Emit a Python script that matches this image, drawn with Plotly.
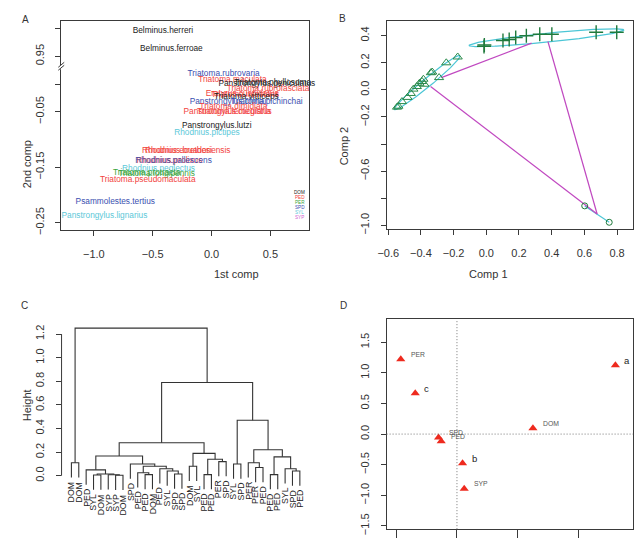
import numpy as np
import plotly.graph_objects as go

W, H = 639, 552

# ---------------- Panel A data ----------------
group_names = ["DOM", "PED", "PER", "SPD", "SYL", "SYP"]
group_colors = ["#222222", "#f2433d", "#3aa540", "#3a4fb0", "#5cc8d8", "#d060d0"]

a_labels = ["Belminus.herreri", "Belminus.ferroae", "Triatoma.rubrovaria", "Triatoma.maculata",
            "Panstrongylus.geniculatus", "Triatoma.phyllosoma", "Triatoma.rubrofasciata",
            "Eratyrus.cuspidatus", "Triatoma.infestans", "Triatoma.vitticeps",
            "Panstrongylus.chinai", "Triatoma.pichinchai", "Triatoma.dimidiata",
            "Panstrongylus.megistus", "Triatoma.lecticularia", "Panstrongylus.lutzi",
            "Rhodnius.pictipes", "Rhodnius.ecuadoriensis", "Rhodnius.brethesi",
            "Rhodnius.prolixus", "Rhodnius.pallescens", "Rhodnius.neglectus",
            "Triatoma.protracta", "Triatoma.longipennis", "Triatoma.pseudomaculata",
            "Psammolestes.tertius", "Panstrongylus.lignarius"]
a_x = [-0.413, -0.341, 0.103, 0.178, 0.47, 0.52, 0.48, 0.26, 0.287, 0.296,
       0.14, 0.47, 0.187, 0.137, 0.19, 0.044, -0.039, -0.215, -0.28,
       -0.358, -0.323, -0.45, -0.55, -0.467, -0.542, -0.818, -0.91]
a_y = [0.995, 0.9625, 0.018, 0.0077, 0.0, 0.0018, -0.009, -0.018, -0.0196, -0.023,
       -0.032, -0.032, -0.041, -0.05, -0.05, -0.075, -0.089, -0.121, -0.121,
       -0.139, -0.139, -0.153, -0.161, -0.162, -0.173, -0.2125, -0.237]
a_group = ["DOM", "DOM", "SPD", "PED", "DOM", "DOM", "PED", "PED", "PED", "DOM",
           "SPD", "SPD", "PED", "PED", "PED", "DOM", "SYL", "PED", "PED",
           "PED", "SPD", "SYL", "PER", "PER", "PED", "SPD", "SYL"]
a_break_gap = 0.9
a_xticks = [-1.0, -0.5, 0.0, 0.5]
a_yticks_real = [1.00, 0.95, 0.0, -0.05, -0.15, -0.25]
a_yticks_text = ["", "0.95", "", "\u22120.05", "\u22120.15", "\u22120.25"]

# ---------------- Panel B data ----------------
cross_x = [-0.014, -0.012, 0.102, 0.140, 0.180, 0.245, 0.327, 0.401, 0.672, 0.798]
cross_y = [0.320, 0.330, 0.364, 0.371, 0.385, 0.398, 0.410, 0.410, 0.424, 0.424]
tri_x = [-0.546, -0.538, -0.516, -0.482, -0.462, -0.446, -0.425, -0.409, -0.393,
         -0.385, -0.379, -0.339, -0.331, -0.289, -0.245, -0.175]
tri_y = [-0.128, -0.121, -0.087, -0.056, -0.027, 0.005, 0.024, 0.048, 0.061,
         0.078, 0.041, 0.126, 0.131, 0.090, 0.199, 0.242]
circ_x = [0.602, 0.752]
circ_y = [-0.856, -0.977]
ell_center = [(0.3685, 0.384), (-0.3615, 0.0535)]
ell_major = [(0.4735, 0.057), (0.2005, 0.1985)]
ell_minor = [(0.0, 0.033), (-0.016, 0.025)]
link_x0 = [-0.275, -0.341, 0.377]
link_y0 = [0.090, 0.024, 0.356]
link_x1 = [0.277, 0.678, 0.678]
link_y1 = [0.344, -0.916, -0.916]
b_xticks = [-0.6, -0.4, -0.2, 0.0, 0.2, 0.4, 0.6, 0.8]
b_yticks = [0.4, 0.2, 0.0, -0.2, -0.4, -0.6, -0.8, -1.0]
b_ytext = ["0.4", "0.2", "0.0", "\u22120.2", "", "\u22120.6", "", "\u22121.0"]

# ---------------- Panel C data (dendrogram) ----------------
tree = (1.25,
        (0.11, "DOM", "DOM"),
        (0.79,
         (0.28,
          (0.167,
           (0.05, "PED", (0.015, (0.006, "SYL", "DOM"), (0.008, "SYP", (0.004, "SYP", "DOM")))),
           (0.10, "SPD", (0.08, (0.025, "PED", (0.01, "PED", "DOM")),
                          (0.06, "PED", (0.04, "SYL", (0.015, "SPD", "SPD")))))),
          (0.19, (0.08, "DOM", "SYL"),
           (0.14, (0.01, "PED", "PED"), (0.12, "PER", "SPD")))),
         (0.47,
          (0.10, "SYL", "SPD"),
          (0.22,
           (0.11, "PER", (0.07, "PER", "PED")),
           (0.16, (0.01, "PED", "PED"), (0.06, "SYL", (0.04, "SPD", "PED")))))))
hang = 0.125
c_yticks = [0.0, 0.2, 0.4, 0.6, 0.8, 1.0, 1.2]

# ---------------- Panel D data ----------------
d_labels = ["PER", "c", "SPD", "PED", "b", "SYP", "DOM", "a"]
d_x = [-0.924, -0.686, -0.303, -0.259, 0.092, 0.119, 1.249, 2.605]
d_y = [1.22, 0.667, -0.054, -0.118, -0.478, -0.892, 0.097, 1.124]
d_xticks = [-1, 0, 1, 2]
d_yticks = [-1.5, -1.0, -0.5, 0.0, 0.5, 1.0, 1.5]

# ---------------- helpers ----------------
def fx(p):
    return p / W

def fy(p):
    return 1 - p / H

AX = "#3a3a3a"
FONT = "Liberation Sans"
common = dict(showgrid=False, zeroline=False, showline=True, mirror=True, linecolor=AX,
              linewidth=1, ticks="outside", ticklen=5, tickcolor=AX, tickwidth=1,
              tickfont=dict(size=11, color="#333", family=FONT))

fig = go.Figure()

# ----- Panel A -----
col_map = dict(zip(group_names, group_colors))
a_yplot = [y - a_break_gap if y > 0.5 else y for y in a_y]
fig.add_trace(go.Scatter(x=a_x, y=a_yplot, mode="text", text=a_labels,
                         textfont=dict(size=8.3, family=FONT, color=[col_map[g] for g in a_group]),
                         cliponaxis=False, xaxis="x", yaxis="y", hoverinfo="skip"))
a_ytick_plot = [y - a_break_gap if y > 0.5 else y for y in a_yticks_real]

# ----- Panel B -----
t = np.linspace(0, 2 * np.pi, 200)
for c, ma, mi in zip(ell_center, ell_major, ell_minor):
    ex = c[0] + np.cos(t) * ma[0] + np.sin(t) * mi[0]
    ey = c[1] + np.cos(t) * ma[1] + np.sin(t) * mi[1]
    fig.add_trace(go.Scatter(x=ex, y=ey, mode="lines", line=dict(color="#4cc6d6", width=1.2),
                             xaxis="x2", yaxis="y2", hoverinfo="skip"))
fig.add_trace(go.Scatter(x=circ_x, y=circ_y, mode="lines", line=dict(color="#4cc6d6", width=1.2),
                         xaxis="x2", yaxis="y2", hoverinfo="skip"))
lx, ly = [], []
for a0, b0, a1, b1 in zip(link_x0, link_y0, link_x1, link_y1):
    lx += [a0, a1, None]
    ly += [b0, b1, None]
fig.add_trace(go.Scatter(x=lx, y=ly, mode="lines", line=dict(color="#c048c0", width=1.2),
                         xaxis="x2", yaxis="y2", hoverinfo="skip"))
GREEN = "#1f7a3c"
fig.add_trace(go.Scatter(x=tri_x, y=tri_y, mode="markers",
                         marker=dict(symbol="triangle-up-open", size=8, color="#2a8a4a", line=dict(width=1)),
                         xaxis="x2", yaxis="y2", hoverinfo="skip"))
fig.add_trace(go.Scatter(x=cross_x, y=cross_y, mode="markers",
                         marker=dict(symbol="cross-thin-open", size=10, color=GREEN, line=dict(width=1.4, color=GREEN)),
                         xaxis="x2", yaxis="y2", hoverinfo="skip"))
fig.add_trace(go.Scatter(x=circ_x, y=circ_y, mode="markers",
                         marker=dict(symbol="circle-open", size=6, color=GREEN, line=dict(width=1)),
                         xaxis="x2", yaxis="y2", hoverinfo="skip"))

# ----- Panel C -----
seg_x, seg_y = [], []
leaves = []
counter = [0]

def walk(node, parent_h):
    if isinstance(node, str):
        counter[0] += 1
        xi = counter[0]
        bottom = parent_h - hang
        leaves.append((xi, bottom, node))
        return xi, bottom
    h, l, r = node
    xl, hl = walk(l, h)
    xr, hr = walk(r, h)
    seg_x.extend([xl, xl, xr, xr, None])
    seg_y.extend([hl, h, h, hr, None])
    return (xl + xr) / 2, h

walk(tree, tree[0])
n_leaves = len(leaves)
fig.add_trace(go.Scatter(x=seg_x, y=seg_y, mode="lines", line=dict(color="#333", width=1.1),
                         xaxis="x3", yaxis="y3", hoverinfo="skip"))
sp = (295 - 63.3) / (n_leaves - 1)
c_xrange = [1 - (63.3 - 53.3) / sp, n_leaves + 15 / sp]

# ----- Panel D -----
fig.add_trace(go.Scatter(x=d_x, y=d_y, mode="markers",
                         marker=dict(symbol="triangle-up", size=8, color="#ee2a1e"),
                         xaxis="x4", yaxis="y4", hoverinfo="skip"))

annotations = []
shapes = []

for txt, x, y in [("A", 11, 12), ("B", 338, 11), ("C", 10, 309), ("D", 339, 309)]:
    annotations.append(dict(text=txt, x=fx(x), y=fy(y), xref="paper", yref="paper", showarrow=False,
                            font=dict(size=10, color="#333", family=FONT)))
for txt, x, y, ang in [("1st comp", 206, 277, 0), ("2nd comp", 11, 140, -90),
                       ("Comp 1", 508, 277, 0), ("Comp 2", 340, 126, -90),
                       ("Height", 11, 428, -90)]:
    annotations.append(dict(text=txt, x=fx(x), y=fy(y), xref="paper", yref="paper", showarrow=False,
                            textangle=ang, font=dict(size=11, color="#333", family=FONT)))
for i, (g, c) in enumerate(zip(group_names, group_colors)):
    annotations.append(dict(text=g, x=fx(295), y=fy(195 + i * 4.9), xref="paper", yref="paper",
                            showarrow=False, font=dict(size=4.6, color=c, family=FONT)))
shapes.append(dict(type="rect", xref="paper", yref="paper", x0=fx(50), x1=fx(57), y0=fy(70), y1=fy(66),
                   fillcolor="white", line=dict(width=0)))
for dy in (0, 3):
    shapes.append(dict(type="line", xref="paper", yref="paper", x0=fx(50), x1=fx(56),
                       y0=fy(71 - dy), y1=fy(66 - dy), line=dict(color=AX, width=1)))

for xi, bottom, lab in leaves:
    annotations.append(dict(text=lab, x=xi, y=bottom, xref="x3", yref="y3", showarrow=False,
                            textangle=-90, xanchor="center", yanchor="top", yshift=-2,
                            font=dict(size=8.8, color="#222", family=FONT)))
shapes.append(dict(type="line", xref="x3 domain", yref="y3", x0=0, x1=0, y0=0, y1=1.2,
                   line=dict(color=AX, width=1)))

for lab, x, y in zip(d_labels, d_x, d_y):
    big = len(lab) == 1
    annotations.append(dict(text=lab, x=x, y=y, xref="x4", yref="y4", showarrow=False,
                            xanchor="left", xshift=8 if not big else 7, yshift=5,
                            font=dict(size=9.5 if big else 6.8, color="#222" if big else "#555", family=FONT)))
shapes.append(dict(type="line", xref="x4", yref="y4 domain", x0=0, x1=0, y0=0, y1=1,
                   line=dict(color="#777", width=1, dash="1px,2px")))
shapes.append(dict(type="line", xref="x4 domain", yref="y4", x0=0, x1=1, y0=0, y1=0,
                   line=dict(color="#777", width=1, dash="1px,2px")))

fig.update_layout(
    width=W, height=H, margin=dict(l=0, r=0, t=0, b=0),
    paper_bgcolor="white", plot_bgcolor="white", showlegend=False,
    annotations=annotations, shapes=shapes,
    xaxis=dict(common, domain=[fx(53), fx(304)], range=[-1.277, 0.826], tickvals=a_xticks,
               ticktext=["\u22121.0", "\u22120.5", "0.0", "0.5"], ticklabelstandoff=8, anchor="y"),
    yaxis=dict(common, domain=[fy(233), fy(21)], range=[-0.264, 0.114], tickvals=a_ytick_plot,
               ticktext=a_yticks_text, tickangle=-90, ticklabelstandoff=7, anchor="x"),
    xaxis2=dict(common, domain=[fx(383), fx(633)], range=[-0.61, 0.898], tickvals=b_xticks,
                ticktext=["\u22120.6", "\u22120.4", "\u22120.2", "0.0", "0.2", "0.4", "0.6", "0.8"],
                ticklabelstandoff=8, anchor="y2"),
    yaxis2=dict(common, domain=[fy(232), fy(21)], range=[-1.03, 0.509], tickvals=b_yticks,
                ticktext=b_ytext, tickangle=-90, ticklabelstandoff=7, anchor="x2"),
    xaxis3=dict(domain=[fx(53.3), fx(310)], range=c_xrange, visible=False, anchor="y3"),
    yaxis3=dict(common, showline=False, mirror=False, domain=[fy(520), fy(300)],
                range=[-(520 - 481) / 119.4, 1.2 + (337.7 - 300) / 119.4],
                tickvals=c_yticks, ticktext=["0.0", "0.2", "0.4", "0.6", "0.8", "1.0", "1.2"],
                tickangle=-90, ticklabelstandoff=7, anchor="x3"),
    xaxis4=dict(common, domain=[fx(383), fx(633)], range=[-1.157, 2.896], tickvals=d_xticks,
                showticklabels=False, ticklen=8, anchor="y4"),
    yaxis4=dict(common, domain=[fy(535), fy(322.7)], range=[-1.553, 1.876], tickvals=d_yticks,
                ticktext=["\u22121.5", "\u22121.0", "\u22120.5", "0.0", "0.5", "1.0", "1.5"],
                tickangle=-90, ticklabelstandoff=7, anchor="x4"),
)

fig.write_html("out.html",
               post_script="document.body.style.margin='0';document.body.style.overflow='hidden';")
